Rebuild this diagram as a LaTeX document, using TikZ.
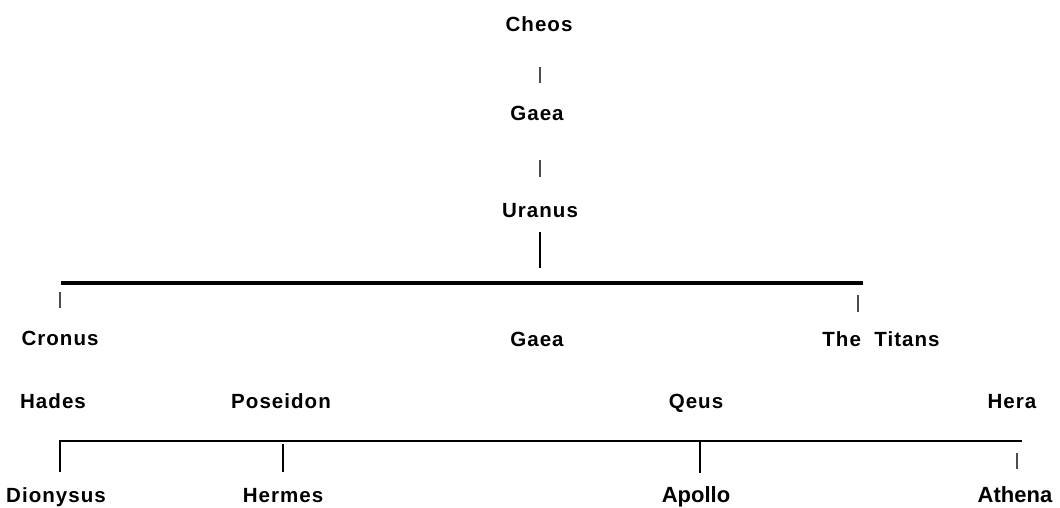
\documentclass[tikz,border=0pt]{standalone}
\usepackage{fontspec}
\setmainfont{Liberation Sans}
\newfontfamily\godfont[LetterSpace=5]{Liberation Sans}

\begin{document}
\begin{tikzpicture}[x=0.75pt, y=-0.75pt,
		god/.style={font={\godfont\bfseries\fontsize{15.4}{18}\selectfont}, inner sep=0pt, anchor=base},
		young/.style={font={\bfseries\fontsize{16.5}{19}\selectfont}, inner sep=0pt, anchor=base},
		tick/.style={draw=black!70, line width=0.9pt},
		stem/.style={draw=black, line width=2pt},
		bar/.style={draw=black, line width=2.4pt}]
		
		\useasboundingbox (0,0) rectangle (1060,507);
		
		\node[god] (cheos) at (539,31) {Cheos};
		\node[god] (gaea) at (537,120) {Gaea};
		\node[god] (uranus) at (540,217) {Uranus};
		\node[god] (cronus) at (60,345) {Cronus};
		\node[god] (gaea2) at (537,346) {Gaea};
		\node[god] (titans) at (881,346) {The\ \ Titans};
		\node[god] (hades) at (53,408) {Hades};
		\node[god] (poseidon) at (281,408) {Poseidon};
		\node[god] (qeus) at (696,408) {Qeus};
		\node[god] (hera) at (1012,408) {Hera};
		\node[god] (dionysus) at (56,502) {Dionysus};
		\node[god] (hermes) at (283,502) {Hermes};
		\node[young] (apollo) at (696,502) {Apollo};
		\node[young] (athena) at (1015,502) {Athena};
		
		\coordinate (cheos-s) at (540,67);
		\coordinate (gaea-n) at (540,83);
		\coordinate (gaea-s) at (540,160);
		\coordinate (uranus-n) at (540,177);
		\coordinate (uranus-s) at (540,232);
		\coordinate (uranus-stem) at (540,268);
		\coordinate (top-l) at (61,283);
		\coordinate (top-r) at (863,283);
		\coordinate (cronus-t) at (60,292);
		\coordinate (cronus-n) at (60,308);
		\coordinate (titans-t) at (858,295);
		\coordinate (titans-n) at (858,312);
		\coordinate (low-l) at (60,441);
		\coordinate (low-r) at (1022,441);
		\coordinate (dionysus-n) at (60,472);
		\coordinate (hermes-t) at (283,444);
		\coordinate (hermes-n) at (283,472);
		\coordinate (apollo-t) at (700,442);
		\coordinate (apollo-n) at (700,473);
		\coordinate (athena-t) at (1017,453);
		\coordinate (athena-n) at (1017,469);
		
		\path[tick]
		(cheos-s) edge (gaea-n)
		(gaea-s) edge (uranus-n)
		(cronus-t) edge (cronus-n)
		(titans-t) edge (titans-n)
		(athena-t) edge (athena-n);
		
		\path[stem]
		(uranus-s) edge (uranus-stem)
		(hermes-t) edge (hermes-n)
		(apollo-t) edge (apollo-n);
		
		\draw[bar] (top-l) -- (top-r);
		\draw[bar, line width=2pt] (dionysus-n) -- (low-l) -- (low-r);
		
	\end{tikzpicture}
\end{document}
